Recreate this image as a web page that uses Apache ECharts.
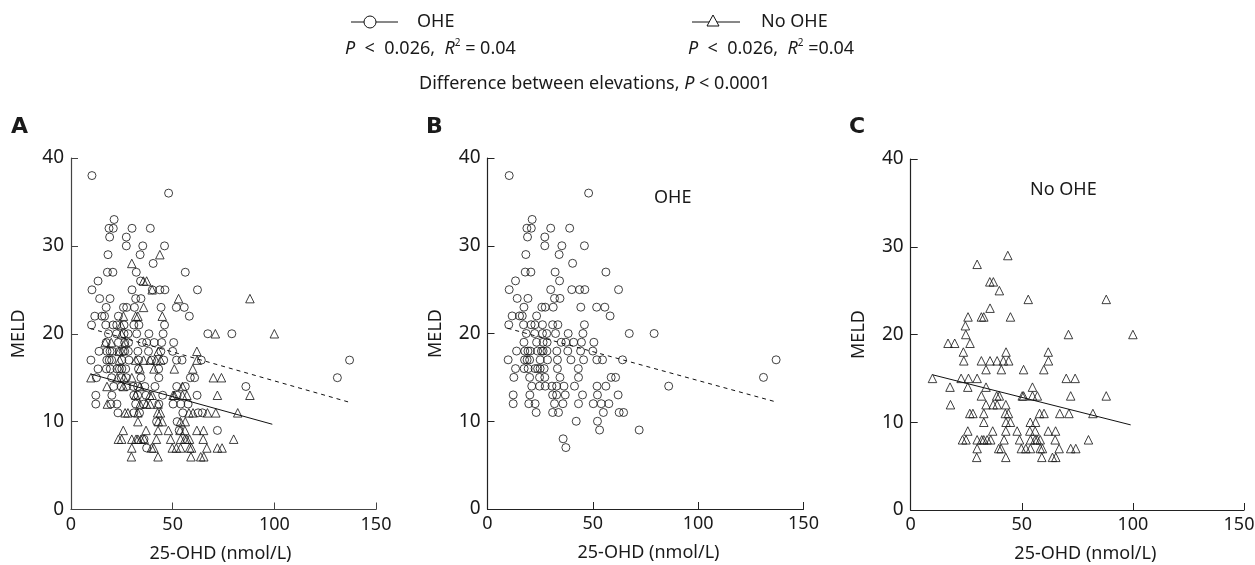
<!DOCTYPE html>
<html><head><meta charset="utf-8">
<script src="https://cdn.jsdelivr.net/npm/echarts@6/dist/echarts.min.js"></script>
<style>html,body{margin:0;padding:0;background:#fff}#c{width:1255px;height:565px}</style>
</head><body><div id="c"></div>
<script>
const ohePoints = [
[10.3,38],[48,36],[21.2,33],[18.7,32],[20.8,32],[30,32],[39,32],[19,31],[27.2,31],[27.2,30],[35.3,30],[46,30],
[18.2,29],[34,29],[40.4,28],[17.9,27],[20.6,27],[32.1,27],[56.2,27],[13.3,26],[34.2,26],
[10.3,25],[30,25],[40,25],[43.7,25],[46.2,25],[62.2,25],[14.1,24],[19.2,24],[31.8,24],[34.4,24],
[17.3,23],[25.8,23],[27.4,23],[31.2,23],[44.3,23],[51.8,23],[55.7,23],[11.7,22],[15.2,22],[16.5,22],[23.3,22],[58.2,22],
[10.1,21],[17.1,21],[20.7,21],[22.5,21],[26.1,21],[30.9,21],[33.4,21],[46,21],
[18.4,20],[22.4,20],[26.1,20],[28.1,20],[32.3,20],[38.3,20],[45.3,20],[67.3,20],[79.1,20],
[17.3,19],[23.3,19],[26.4,19],[28.3,19],[35,19],[37.2,19],[40.9,19],[44.6,19],[50.5,19],
[13.8,18],[17.7,18],[19.2,18],[20.3,18],[23.8,18],[25.6,18],[26.4,18],[28.2,18],[32.9,18],[38.1,18],[44.2,18],[50,18],
[9.8,17],[17.6,17],[18.8,17],[20,17],[25,17],[28.5,17],[33.2,17],[39.6,17],[45.6,17],[51.9,17],[54.6,17],[64.1,17],[137,17],
[13.3,16],[17.4,16],[19.3,16],[22.6,16],[23.8,16],[25,16],[26.9,16],[33.2,16],[43.1,16],
[12.5,15],[20,15],[24.7,15],[27.2,15],[34.4,15],[43.2,15],[58.7,15],[60.8,15],[131,15],
[21,14],[24.7,14],[27.4,14],[30.6,14],[32.8,14],[36.3,14],[41.3,14],[52,14],[56.2,14],[86,14],
[12.2,13],[20.1,13],[30.9,13],[32.8,13],[36.9,13],[45.1,13],[52.2,13],[62,13],
[12.2,12],[19.6,12],[22.6,12],[31.8,12],[35.8,12],[43.2,12],[50.2,12],[54,12],[57.6,12],
[23.1,11],[30.9,11],[33.7,11],[55,11],[62.5,11],[64.6,11],[42.1,10],[52.2,10],[53.2,9],[72,9],[35.9,8],[37.2,7]
];
const noOhePoints = [
[43.7,29],[29.9,28],[35.6,26],[37.2,26],[39.9,25],[52.9,24],[88,24],[35.7,23],[25.8,22],[31.8,22],[32.9,22],[44.9,22],
[24.6,21],[24.8,20],[71,20],[100,20],[16.8,19],[19.8,19],[26.7,19],[23.7,18],[42.9,18],[61.9,18],
[23.9,17],[31.8,17],[35.7,17],[38.9,17],[41.7,17],[44.1,17],[62,17],[33.9,16],[40.8,16],[50.8,16],[59.9,16],
[9.8,15],[22.7,15],[26,15],[29.9,15],[70,15],[74,15],[17.7,14],[25.7,14],[33.9,14],[54.8,14],
[31.8,13],[38.7,13],[39.9,13],[50.2,13],[50.8,13],[54.8,13],[57,13],[72,13],[88,13],
[17.9,12],[33.9,12],[37.1,12],[38.9,12],[42.8,12],
[26.6,11],[28,11],[32.9,11],[42.6,11],[44,11],[58,11],[60,11],[67.1,11],[71.2,11],[82,11],
[32.9,10],[42.9,10],[44.9,10],[53.8,10],[56.2,10],
[25.7,9],[36.9,9],[42.8,9],[47.9,9],[53.6,9],[56,9],[61.9,9],[65.2,9],
[23.3,8],[24.9,8],[29.9,8],[32,8],[32.9,8],[34.4,8],[36,8],[42,8],[49,8],[53.9,8],[56,8],[56.9,8],[58.3,8],[65,8],[80,8],
[29.9,7],[39.6,7],[40.7,7],[49.8,7],[51.8,7],[53.9,7],[58.3,7],[59.3,7],[66.8,7],[72,7],[74.3,7],
[29.7,6],[42.8,6],[59,6],[63.8,6],[65.3,6]
];
const oheFit = [[9.5,20.6],[137,12.2]];
const noOheFit = [[10,15.4],[99,9.7]];
const xTicks = {min:0,max:150,interval:50};
const yTicks = {min:0,max:40,interval:10};
const xName = '25-OHD (nmol/L)', yName = 'MELD';

const FONT = 'Noto Sans';
const INK = '#1a1a1a';
const panels = [
  {left:71,  top:158, width:305, height:351.5, axis:'#444', xShift:-3, pts:['o','n']},
  {left:487.5,top:158,width:316, height:351,   axis:'#222', xShift:3,  pts:['o']},
  {left:910.7,top:159,width:333.3,height:351,  axis:'#222', xShift:8,  pts:['n'], nudgeLast:true}
];
const grid=[],xAxis=[],yAxis=[],series=[];
panels.forEach((p,i)=>{
  grid.push({left:p.left,top:p.top,width:p.width,height:p.height,outerBoundsMode:'none'});
  const line={lineStyle:{color:p.axis,width:1.2}};
  const xLabel={fontFamily:FONT,fontSize:18,color:INK,margin:6,hideOverlap:false,showMinLabel:true,showMaxLabel:true};
  if(p.nudgeLast){
    xLabel.formatter=v=>v===xTicks.max?'{m|'+v+'}':String(v);
    xLabel.rich={m:{fontFamily:FONT,fontSize:18,color:INK,padding:[0,10,0,0]}};
  }
  xAxis.push({gridIndex:i,type:'value',...xTicks,splitLine:{show:false},
    axisLine:line,axisTick:{inside:true,length:7,lineStyle:{color:p.axis,width:1}},
    axisLabel:xLabel,
    name:xName,nameLocation:'middle',nameGap:35,
    nameTextStyle:{fontFamily:FONT,fontSize:18,color:INK,padding:p.xShift>0?[0,0,0,2*p.xShift]:[0,-2*p.xShift,0,0]}});
  yAxis.push({gridIndex:i,type:'value',...yTicks,splitLine:{show:false},
    axisLine:line,axisTick:{inside:true,length:7,lineStyle:{color:p.axis,width:1}},
    axisLabel:{fontFamily:FONT,fontSize:19,color:INK,margin:7,showMinLabel:true,showMaxLabel:true},
    name:yName,nameLocation:'middle',nameGap:43,nameRotate:90,
    nameTextStyle:{fontFamily:FONT,fontSize:18,color:INK}});
  if(p.pts.includes('o')){
    series.push({name:'OHE',type:'scatter',xAxisIndex:i,yAxisIndex:i,data:ohePoints,symbol:'circle',symbolSize:8,
      itemStyle:{color:'rgba(0,0,0,0)',borderColor:'#111',borderWidth:1},silent:true,animation:false});
    series.push({name:'OHE fit',type:'line',xAxisIndex:i,yAxisIndex:i,data:oheFit,showSymbol:false,
      lineStyle:{color:'#111',width:1,type:[4,4]},silent:true,animation:false});
  }
  if(p.pts.includes('n')){
    series.push({name:'No OHE',type:'scatter',xAxisIndex:i,yAxisIndex:i,data:noOhePoints,symbol:'triangle',symbolSize:8.5,
      itemStyle:{color:'rgba(0,0,0,0)',borderColor:'#111',borderWidth:1},silent:true,animation:false});
    series.push({name:'No OHE fit',type:'line',xAxisIndex:i,yAxisIndex:i,data:noOheFit,showSymbol:false,
      lineStyle:{color:'#111',width:1},silent:true,animation:false});
  }
});
const rich={i:{fontFamily:FONT,fontSize:18,fontStyle:'italic',color:INK},
  s:{fontFamily:FONT,fontSize:10,color:INK,verticalAlign:'top',lineHeight:22}};
const txt=(x,y,text,extra={})=>({type:'text',x,y,style:{text,fontFamily:FONT,fontSize:18,fill:INK,verticalAlign:'middle',rich,...extra}});
const seg=(x1,x2,y)=>({type:'line',shape:{x1,y1:y,x2,y2:y},style:{stroke:'#111',lineWidth:1}});
const graphic=[
  seg(351,398,22),
  {type:'circle',shape:{cx:370,cy:22,r:6},style:{fill:'#fff',stroke:'#111',lineWidth:1}},
  txt(417,22,'OHE'),
  seg(692,740,22),
  {type:'polygon',shape:{points:[[713,15],[707,26],[719,26]]},style:{fill:'#fff',stroke:'#111',lineWidth:1}},
  txt(761,22,'No OHE'),
  txt(345,49,'{i|P}\u00a0\u00a0< \u00a00.026,\u00a0 {i|R}{s|2} = 0.04'),
  txt(688,49,'{i|P}\u00a0\u00a0< \u00a00.026,\u00a0 {i|R}{s|2} =0.04'),
  txt(419,84,'Difference between elevations, {i|P} < 0.0001'),
  txt(11,127,'A',{fontFamily:'DejaVu Sans',fontWeight:'bold',fontSize:22}),
  txt(426,127,'B',{fontFamily:'DejaVu Sans',fontWeight:'bold',fontSize:22}),
  txt(849,127,'C',{fontFamily:'DejaVu Sans',fontWeight:'bold',fontSize:22}),
  txt(654,198,'OHE'),
  txt(1030,190,'No OHE')
];
const chart=echarts.init(document.getElementById('c'),null,{renderer:'canvas'});
chart.setOption({animation:false,backgroundColor:'#fff',grid,xAxis,yAxis,series,graphic,legend:{show:false},tooltip:{show:false}});
</script></body></html>
